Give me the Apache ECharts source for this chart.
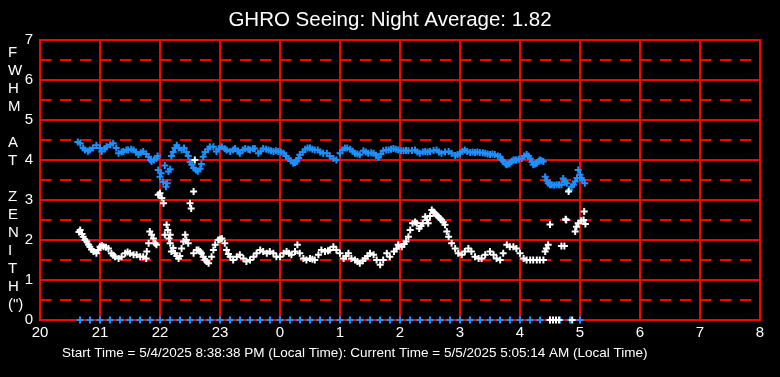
<!DOCTYPE html>
<html>
<head>
<meta charset="utf-8">
<script src="https://cdn.jsdelivr.net/npm/echarts@6/dist/echarts.min.js"></script>
<style>
  html, body { margin: 0; padding: 0; background: #000; }
  #chart { width: 780px; height: 377px; }
</style>
</head>
<body>
<div id="chart"></div>
<script>
// hours since midnight of start day; values past 24 are the next morning
const hourTicks = [20, 21, 22, 23, 0, 1, 2, 3, 4, 5, 6, 7, 8];
const yTicks = [0, 1, 2, 3, 4, 5, 6, 7];

const blueSeeing = [
  [20.63,4.45],[20.67,4.42],[20.72,4.3],[20.75,4.25],[20.8,4.22],[20.83,4.25],[20.88,4.3],[20.94,4.37],
  [21.0,4.3],[21.03,4.21],[21.08,4.28],[21.11,4.33],[21.17,4.38],[21.22,4.42],[21.27,4.3],[21.31,4.17],
  [21.36,4.2],[21.39,4.21],[21.44,4.25],[21.47,4.25],[21.52,4.27],[21.56,4.25],[21.6,4.2],[21.64,4.14],
  [21.68,4.18],[21.72,4.21],[21.77,4.15],[21.81,4.08],[21.84,4.0],[21.86,3.96],[21.9,4.0],[21.94,4.04],
  [21.96,4.1],[21.97,3.75],[22.0,3.58],[22.02,3.67],[22.05,3.45],[22.08,3.86],[22.1,3.33],[22.12,3.42],
  [22.14,3.71],[22.17,3.77],[22.19,4.1],[22.22,4.2],[22.25,4.3],[22.28,4.37],[22.31,4.3],[22.36,4.25],
  [22.4,4.3],[22.44,4.2],[22.47,4.1],[22.5,3.95],[22.53,3.88],[22.56,3.8],[22.6,3.75],[22.63,3.72],
  [22.67,3.78],[22.69,3.9],[22.72,4.08],[22.75,4.2],[22.8,4.27],[22.83,4.33],[22.89,4.33],[22.94,4.21],
  [22.98,4.28],[23.03,4.33],[23.08,4.28],[23.11,4.25],[23.17,4.21],[23.22,4.25],[23.25,4.29],[23.3,4.22],
  [23.33,4.17],[23.38,4.25],[23.42,4.29],[23.47,4.27],[23.5,4.25],[23.55,4.28],[23.58,4.29],[23.64,4.17],
  [23.68,4.22],[23.72,4.29],[23.77,4.27],[23.81,4.25],[23.85,4.23],[23.89,4.21],[23.93,4.23],[23.97,4.21],
  [24.02,4.2],[24.06,4.17],[24.1,4.1],[24.14,4.04],[24.18,3.98],[24.22,3.92],[24.25,3.94],[24.28,3.96],
  [24.31,4.05],[24.33,4.13],[24.38,4.2],[24.42,4.27],[24.46,4.3],[24.5,4.3],[24.54,4.27],[24.58,4.25],
  [24.63,4.25],[24.67,4.2],[24.72,4.17],[24.78,4.17],[24.83,4.1],[24.89,4.04],[24.94,4.0],[25.0,4.17],
  [25.04,4.25],[25.08,4.3],[25.12,4.3],[25.17,4.27],[25.21,4.22],[25.25,4.17],[25.29,4.15],[25.33,4.13],
  [25.39,4.23],[25.43,4.2],[25.47,4.17],[25.52,4.18],[25.56,4.17],[25.6,4.12],[25.64,4.06],[25.68,4.15],
  [25.72,4.23],[25.77,4.25],[25.81,4.25],[25.85,4.27],[25.89,4.29],[25.93,4.27],[25.97,4.25],[26.02,4.23],
  [26.06,4.23],[26.1,4.24],[26.14,4.23],[26.2,4.24],[26.25,4.25],[26.29,4.2],[26.33,4.17],[26.38,4.2],
  [26.42,4.21],[26.46,4.2],[26.5,4.21],[26.56,4.24],[26.61,4.25],[26.65,4.2],[26.69,4.17],[26.75,4.2],
  [26.81,4.21],[26.86,4.17],[26.92,4.11],[26.96,4.14],[27.0,4.17],[27.04,4.22],[27.08,4.25],[27.12,4.21],
  [27.17,4.19],[27.21,4.2],[27.25,4.19],[27.29,4.2],[27.33,4.19],[27.38,4.18],[27.42,4.17],[27.46,4.15],
  [27.5,4.14],[27.54,4.15],[27.58,4.14],[27.63,4.1],[27.67,4.08],[27.7,4.0],[27.72,3.96],[27.76,3.9],
  [27.78,3.88],[27.81,3.9],[27.83,3.92],[27.86,3.97],[27.89,4.0],[27.92,4.0],[27.94,4.0],[27.98,4.02],
  [28.03,4.04],[28.07,4.1],[28.11,4.14],[28.14,4.1],[28.17,4.04],[28.2,3.95],[28.22,3.88],[28.25,3.9],
  [28.28,3.92],[28.31,3.97],[28.33,4.0],[28.36,3.98],[28.39,3.96],
  [28.42,3.58],[28.45,3.48],[28.47,3.42],[28.5,3.38],[28.53,3.38],[28.57,3.37],[28.61,3.38],[28.65,3.38],
  [28.69,3.38],[28.72,3.54],[28.75,3.45],[28.78,3.42],[28.82,3.25],[28.86,3.33],[28.89,3.38],[28.92,3.46],
  [28.95,3.55],[28.97,3.75],[29.0,3.63],[29.02,3.55],[29.04,3.5],[29.08,3.42]
];

const whiteSeeing = [
  [20.65,2.2],[20.67,2.25],[20.7,2.15],[20.72,2.08],[20.75,2.0],[20.78,1.96],[20.81,1.88],[20.83,1.83],
  [20.86,1.76],[20.89,1.71],[20.94,1.67],[20.97,1.75],[21.0,1.83],[21.03,1.86],[21.06,1.83],[21.1,1.82],
  [21.14,1.79],[21.19,1.67],[21.22,1.62],[21.25,1.58],[21.31,1.54],[21.36,1.58],[21.42,1.67],[21.46,1.7],
  [21.5,1.67],[21.56,1.63],[21.61,1.63],[21.67,1.58],[21.72,1.58],[21.77,1.54],
  [21.78,1.71],[21.81,1.92],[21.83,2.21],[21.86,2.13],[21.89,2.04],[21.92,1.92],[21.94,1.88],[21.97,3.13],
  [22.0,3.17],[22.03,3.05],[22.06,2.92],[22.08,2.13],[22.11,2.38],[22.13,2.25],[22.15,2.04],[22.17,2.13],
  [22.17,1.92],[22.19,1.71],[22.22,1.8],[22.25,1.67],[22.28,1.6],[22.31,1.54],[22.33,1.6],[22.36,1.79],
  [22.39,1.96],[22.42,2.13],[22.44,2.0],[22.47,1.92],[22.5,2.92],[22.52,2.79],[22.56,3.21],[22.56,1.67],
  [22.58,4.0],[22.61,1.75],[22.64,1.75],[22.67,1.71],[22.69,1.67],[22.72,1.58],[22.75,1.5],[22.78,1.46],
  [22.81,1.42],[22.86,1.58],[22.89,1.75],[22.92,1.88],[22.97,2.0],[23.0,2.02],[23.03,2.04],[23.08,1.92],
  [23.11,1.75],[23.14,1.65],[23.17,1.58],[23.22,1.5],[23.28,1.58],[23.33,1.63],[23.39,1.54],[23.44,1.46],
  [23.5,1.5],[23.56,1.58],[23.61,1.67],[23.67,1.75],[23.72,1.71],[23.78,1.67],[23.83,1.71],[23.89,1.67],
  [23.94,1.58],[24.0,1.58],[24.06,1.67],[24.11,1.71],[24.15,1.67],[24.19,1.63],[24.25,1.71],[24.29,1.88],
  [24.33,1.67],[24.39,1.54],[24.44,1.5],[24.5,1.54],[24.54,1.52],[24.58,1.5],[24.64,1.63],[24.69,1.75],
  [24.75,1.71],[24.8,1.73],[24.83,1.75],[24.89,1.83],[24.94,1.75],[25.0,1.67],[25.06,1.54],[25.1,1.6],
  [25.14,1.67],[25.19,1.54],[25.25,1.5],[25.29,1.46],[25.33,1.42],[25.38,1.48],[25.42,1.54],[25.46,1.6],
  [25.5,1.67],[25.56,1.63],[25.61,1.5],[25.67,1.38],[25.72,1.5],[25.78,1.67],[25.83,1.58],[25.9,1.71],
  [25.94,1.78],[25.97,1.88],[26.03,1.83],[26.07,1.9],[26.1,1.96],[26.14,2.08],[26.17,2.25],[26.21,2.42],
  [26.25,2.45],[26.28,2.42],[26.32,2.29],[26.35,2.35],[26.38,2.42],[26.42,2.58],[26.45,2.5],[26.47,2.42],
  [26.5,2.6],[26.53,2.75],[26.56,2.7],[26.58,2.67],[26.61,2.62],[26.64,2.58],[26.67,2.54],[26.69,2.5],
  [26.72,2.45],[26.75,2.38],[26.78,2.21],[26.81,2.08],[26.86,1.92],[26.92,1.79],[26.97,1.67],[27.03,1.63],
  [27.08,1.71],[27.14,1.79],[27.19,1.71],[27.25,1.58],[27.31,1.54],[27.36,1.54],[27.42,1.63],[27.5,1.71],
  [27.56,1.63],[27.61,1.54],[27.67,1.5],[27.72,1.67],[27.78,1.88],[27.83,1.83],[27.89,1.83],[27.94,1.79],
  [28.0,1.67],[28.06,1.54],[28.11,1.5],[28.17,1.5],[28.22,1.5],[28.28,1.5],[28.33,1.5],[28.39,1.5],
  [28.42,1.71],[28.44,1.79],[28.47,1.88],[28.5,2.39],[28.69,1.85],[28.74,1.85],[28.76,2.52],[28.77,2.5],
  [28.81,3.21],[28.92,2.21],[28.94,2.33],[28.97,2.42],[29.02,2.48],[29.06,2.5],[29.07,2.71],[29.09,2.4]
];

// readings logged as zero (no measurement)
const blueZeroTimes = [
  20.667,20.833,21.0,21.167,21.333,21.5,21.667,21.833,22.0,22.167,22.333,22.5,22.667,22.833,
  23.0,23.167,23.333,23.5,23.667,23.833,24.0,24.167,24.333,24.5,24.667,24.833,25.0,25.167,
  25.333,25.5,25.667,25.833,26.0,26.167,26.333,26.5,26.667,26.833,27.0,27.167,27.333,27.5,
  27.667,27.833,28.0,28.167,28.333,28.5,28.667,28.833,29.0
];
const whiteZeroTimes = [28.5, 28.55, 28.6, 28.65, 28.87];

const titleText = "GHRO Seeing: Night Average: 1.82";
const footerText = "Start Time = 5/4/2025 8:38:38 PM (Local Time): Current Time = 5/5/2025 5:05:14 AM (Local Time)";
const yAxisText = "F\nW\nH\nM\n\nA\nT\n\nZ\nE\nN\nI\nT\nH\n(\")";

const FONT = "Liberation Sans, Arial, sans-serif";
const RED = "#ff0000";
const BLUE = "#1e90ff";
const PLUS = "path://M2.5,0H4.5V7H2.5Z M0,2.5H7V4.5H0Z";

function plusSeries(data, color) {
  return {
    type: "scatter",
    data: data,
    symbol: PLUS,
    symbolSize: 7,
    itemStyle: { color: color, opacity: 1 },
    silent: true,
  };
}

const chart = echarts.init(document.getElementById("chart"));
chart.setOption({
  animation: false,
  backgroundColor: "#000",
  textStyle: { fontFamily: FONT },
  title: {
    text: titleText,
    left: "center",
    top: 5,
    textStyle: { color: "#fff", fontSize: 20.5, fontWeight: "normal", fontFamily: FONT },
  },
  grid: {
    left: 40,
    right: 20,
    top: 40,
    bottom: 57,
    show: true,
    borderColor: RED,
    borderWidth: 2,
  },
  xAxis: {
    type: "value",
    min: 20,
    max: 32,
    interval: 1,
    axisLine: { show: true, lineStyle: { color: RED, width: 2 } },
    axisTick: { show: false },
    axisLabel: {
      color: "#fff",
      fontSize: 15,
      margin: 5,
      fontFamily: FONT,
      formatter: (v) => String(hourTicks[Math.round(v) - 20]),
    },
    splitLine: { show: true, lineStyle: { color: RED, width: 2 } },
  },
  yAxis: {
    type: "value",
    min: 0,
    max: 7,
    interval: 1,
    axisLine: { show: true, lineStyle: { color: RED, width: 2 } },
    axisTick: { show: false },
    axisLabel: {
      color: "#fff",
      fontSize: 15,
      margin: 7,
      fontFamily: FONT,
      formatter: (v) => String(yTicks[Math.round(v)]),
    },
    splitLine: { show: true, lineStyle: { color: RED, width: 2 } },
    minorTick: { show: false, splitNumber: 2 },
    minorSplitLine: { show: true, lineStyle: { color: RED, width: 2, type: [11, 9] } },
  },
  graphic: [
    {
      type: "text",
      left: 8,
      top: 44,
      style: {
        text: yAxisText,
        fill: "#fff",
        font: "15px " + FONT,
        lineHeight: 18,
        align: "center",
      },
    },
    {
      type: "text",
      left: 62,
      top: 346,
      style: { text: footerText, fill: "#fff", font: "13.5px " + FONT },
    },
  ],
  series: [
    plusSeries(blueZeroTimes.map((t) => [t, 0]), BLUE),
    plusSeries(blueSeeing, BLUE),
    plusSeries(whiteSeeing, "#fff"),
    plusSeries(whiteZeroTimes.map((t) => [t, 0]), "#fff"),
  ],
});
</script>
</body>
</html>
